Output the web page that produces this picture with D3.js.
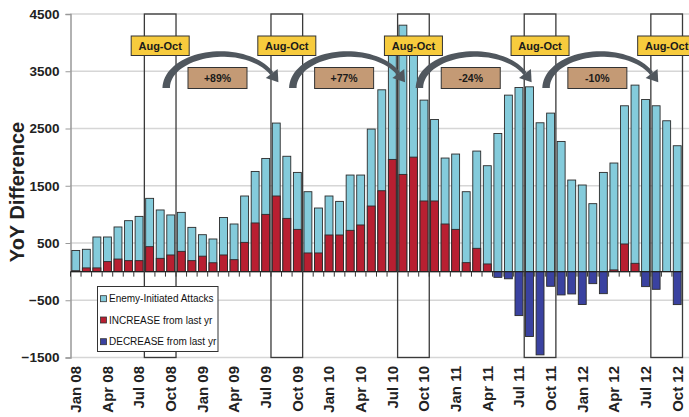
<!DOCTYPE html>
<html><head><meta charset="utf-8">
<script src="https://cdn.jsdelivr.net/npm/d3@7"></script>
<style>html,body{margin:0;padding:0;background:#fff;}svg{display:block;font-family:"Liberation Sans",Arial,sans-serif;}</style>
</head><body>
<script>
const months = ["Jan 08","Feb 08","Mar 08","Apr 08","May 08","Jun 08","Jul 08","Aug 08","Sep 08","Oct 08","Nov 08","Dec 08",
"Jan 09","Feb 09","Mar 09","Apr 09","May 09","Jun 09","Jul 09","Aug 09","Sep 09","Oct 09","Nov 09","Dec 09",
"Jan 10","Feb 10","Mar 10","Apr 10","May 10","Jun 10","Jul 10","Aug 10","Sep 10","Oct 10","Nov 10","Dec 10",
"Jan 11","Feb 11","Mar 11","Apr 11","May 11","Jun 11","Jul 11","Aug 11","Sep 11","Oct 11","Nov 11","Dec 11",
"Jan 12","Feb 12","Mar 12","Apr 12","May 12","Jun 12","Jul 12","Aug 12","Sep 12","Oct 12"];
const attacks = [370,390,605,605,780,890,965,1280,1077,990,1035,773,
645,570,945,832,1321,1750,1977,2595,2015,1733,1396,1111,
1321,1227,1687,1687,2490,3176,3940,4305,4010,2996,2658,1984,
2054,1396,2106,1850,2413,3083,3216,3228,2600,2769,2274,1600,
1513,1187,1733,1897,2897,3258,3007,2897,2635,2199];
const increase = [15,65,65,175,220,192,192,436,232,291,354,192,
270,155,291,209,511,850,1000,1321,930,738,326,326,
640,640,721,815,1146,1413,1960,1698,2000,1234,1234,832,
738,157,407,134,0,0,0,0,0,0,0,0,
0,0,0,30,483,145,0,0,0,0];
const decrease = [0,0,0,0,0,0,0,0,0,0,0,0,
0,0,0,0,0,0,0,0,0,0,0,0,
0,0,0,0,0,0,0,0,0,0,0,0,
0,0,0,0,-100,-125,-768,-1134,-1454,-256,-407,-390,
-575,-210,-385,0,0,0,-262,-309,0,-576];
const xTickLabels = ["Jan 08","Apr 08","Jul 08","Oct 08","Jan 09","Apr 09","Jul 09","Oct 09","Jan 10","Apr 10","Jul 10","Oct 10","Jan 11","Apr 11","Jul 11","Oct 11","Jan 12","Apr 12","Jul 12","Oct 12"];
const yTicks = [4500,3500,2500,1500,500,-500,-1500];
const boxStart = ["Aug 08","Aug 09","Aug 10","Aug 11","Aug 12"];
const boxEnd = ["Oct 08","Oct 09","Oct 10","Oct 11","Oct 12"];
const boxLabel = "Aug-Oct";
const pctLabels = ["+89%","+77%","-24%","-10%"];
const legendItems = ["Enemy-Initiated Attacks","INCREASE from last yr","DECREASE from last yr"];
const colors = {attacks:"#84CBDB", inc:"#B81F31", dec:"#3A42A0"};

const W=689,H=417;
const svg=d3.select("body").append("svg").attr("width",W).attr("height",H);
const y=d3.scaleLinear().domain([-1500,4500]).range([357.5,14]);
const x=d3.scaleBand().domain(months).range([70.5,682.5]).paddingInner(0.25).paddingOuter(0.125);
const bw=x.bandwidth(), step=x.step(), gap=step-bw;

// gridlines
svg.append("g").selectAll("line").data(yTicks).join("line")
  .attr("x1",70).attr("x2",W).attr("y1",d=>y(d)).attr("y2",d=>y(d))
  .attr("stroke","#d6d6d6").attr("stroke-width",1.5);

// y axis
const yAxis=d3.axisLeft(y).tickValues(yTicks).tickSize(5).tickFormat(d3.format("d"));
const ya=svg.append("g").attr("transform","translate(70.5,0)").call(yAxis);
ya.select(".domain").attr("stroke","#999").attr("stroke-width",1.5);
ya.selectAll(".tick line").attr("stroke","#999");
ya.selectAll(".tick text").attr("font-size","13.5px").attr("font-weight","bold").attr("fill","#222")
  .attr("font-family","'Liberation Sans',Arial,sans-serif").attr("x",-11);

// bars
const bars=svg.append("g");
bars.selectAll("rect.a").data(months).join("rect").attr("class","a")
  .attr("x",d=>x(d)).attr("width",bw)
  .attr("y",(d,i)=>y(attacks[i])).attr("height",(d,i)=>y(0)-y(attacks[i]))
  .attr("fill",colors.attacks).attr("stroke","#2b2b2b").attr("stroke-width",0.9);
bars.selectAll("rect.i").data(months.filter((d,i)=>increase[i]>0)).join("rect").attr("class","i")
  .attr("x",d=>x(d)).attr("width",bw)
  .attr("y",d=>y(increase[months.indexOf(d)])).attr("height",d=>y(0)-y(increase[months.indexOf(d)]))
  .attr("fill",colors.inc).attr("stroke","#2b2b2b").attr("stroke-width",0.9);
bars.selectAll("rect.d").data(months.filter((d,i)=>decrease[i]<0)).join("rect").attr("class","d")
  .attr("x",d=>x(d)).attr("width",bw)
  .attr("y",y(0)).attr("height",d=>y(decrease[months.indexOf(d)])-y(0))
  .attr("fill",colors.dec).attr("stroke","#2b2b2b").attr("stroke-width",0.9);

// zero axis with ticks
const zero=y(0);
svg.append("line").attr("x1",70.5).attr("x2",682.5).attr("y1",zero).attr("y2",zero).attr("stroke","#222").attr("stroke-width",1.2);
svg.append("g").selectAll("line").data(months.concat(["end"])).join("line")
  .attr("x1",(d,i)=>i<months.length? x(d)-gap/2 : x(months[months.length-1])+bw+gap/2)
  .attr("x2",(d,i)=>i<months.length? x(d)-gap/2 : x(months[months.length-1])+bw+gap/2)
  .attr("y1",zero).attr("y2",zero+5).attr("stroke","#333").attr("stroke-width",1);

// x labels
svg.append("g").selectAll("text").data(xTickLabels).join("text")
  .attr("transform",d=>`translate(${x(d)+bw/2},366) rotate(-90)`)
  .attr("text-anchor","end").attr("dy","0.36em")
  .attr("font-size","15px").attr("font-weight","bold").attr("fill","#222").text(d=>d);

// y title
svg.append("text").attr("transform","translate(17,192) rotate(-90)")
  .attr("text-anchor","middle").attr("dy","0.36em")
  .attr("font-size","20px").attr("font-weight","bold").attr("fill","#222").text("YoY Difference");

// boxes
const boxes=boxStart.map((s,i)=>{
  const x0=x(s)-gap/2, x1=x(boxEnd[i])+bw+gap/2;
  return {x0,x1,cx:(x0+x1)/2};
});
svg.append("g").selectAll("rect").data(boxes).join("rect")
  .attr("x",d=>d.x0).attr("width",d=>d.x1-d.x0)
  .attr("y",y(4500)).attr("height",y(-1500)-y(4500))
  .attr("fill","none").attr("stroke","#3a3a3a").attr("stroke-width",1.3);

// arrows
const ag=svg.append("g");
for(let i=0;i<boxes.length-1;i++){
  const sx=boxes[i].cx+6, ex=boxes[i+1].x0+6;
  const cx=(sx+ex)/2, rx=(ex-sx)/2, cy=88, ry=34;
  const t1=0.86*Math.PI, n=40;
  const P=t=>[cx-rx*Math.cos(t), cy-ry*Math.sin(t)];
  const T=t=>{const a=rx*Math.sin(t), b=-ry*Math.cos(t); const L=Math.hypot(a,b); return [a/L,b/L];};
  const left=[],right=[];
  for(let k=0;k<=n;k++){
    const t=t1*k/n, p=P(t), tg=T(t), nn=[-tg[1],tg[0]], w=(7.5-3.5*k/n)/2;
    left.push([p[0]+nn[0]*w,p[1]+nn[1]*w]); right.push([p[0]-nn[0]*w,p[1]-nn[1]*w]);
  }
  ag.append("path").attr("d",d3.line()(left.concat(right.reverse()))+"Z").attr("fill","#50575e");
  const pb=P(t1), tb=T(t1), nb=[-tb[1],tb[0]], hw=7.5, hl=11;
  const head=[[pb[0]+nb[0]*hw,pb[1]+nb[1]*hw],[pb[0]+tb[0]*hl,pb[1]+tb[1]*hl],[pb[0]-nb[0]*hw,pb[1]-nb[1]*hw]];
  ag.append("path").attr("d",d3.line()(head)+"Z").attr("fill","#50575e");
}

// Aug-Oct labels
const lg=svg.append("g");
boxes.forEach(b=>{
  lg.append("rect").attr("x",b.cx-29).attr("y",36).attr("width",58).attr("height",19.5)
    .attr("fill","#F7CB3D").attr("stroke","#333").attr("stroke-width",1);
  lg.append("text").attr("x",b.cx).attr("y",45.8).attr("dy","0.36em").attr("text-anchor","middle")
    .attr("font-size","11px").attr("font-weight","bold").attr("fill","#1a1a1a").text(boxLabel);
});
pctLabels.forEach((p,i)=>{
  const c=(boxes[i].cx+boxes[i+1].cx)/2 - 6;
  lg.append("rect").attr("x",c-29.5).attr("y",67.5).attr("width",59).attr("height",21)
    .attr("fill","#C49A75").attr("stroke","#333").attr("stroke-width",1);
  lg.append("text").attr("x",c).attr("y",78).attr("dy","0.36em").attr("text-anchor","middle")
    .attr("font-size","10.5px").attr("font-weight","bold").attr("fill","#1a1a1a").text(p);
});

// legend
const leg=svg.append("g");
leg.append("rect").attr("x",97.5).attr("y",286.5).attr("width",120.5).attr("height",65)
  .attr("fill","#fff").attr("stroke","#333").attr("stroke-width",1);
const lc=[colors.attacks,colors.inc,colors.dec], ly=[298.7,320,341.7];
legendItems.forEach((t,i)=>{
  leg.append("rect").attr("x",100.5).attr("y",ly[i]-3).attr("width",6).attr("height",6)
    .attr("fill",lc[i]).attr("stroke","#333").attr("stroke-width",0.8);
  leg.append("text").attr("x",109).attr("y",ly[i]).attr("dy","0.35em")
    .attr("font-size","10px").attr("fill","#111").text(t);
});
</script>
</body></html>
